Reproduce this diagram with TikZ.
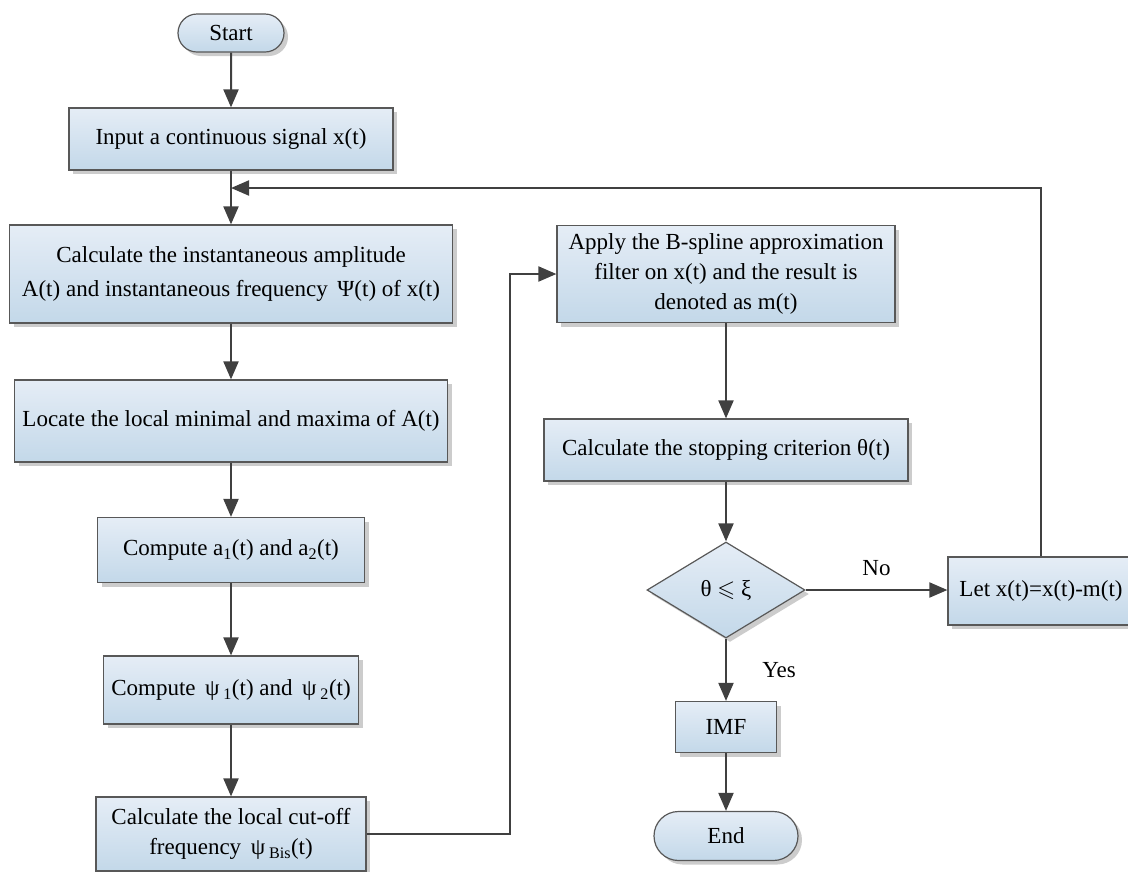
\documentclass[tikz,border=0pt]{standalone}
\usepackage{fontspec}
\setmainfont{Liberation Serif}
\usepackage{amssymb}
\usetikzlibrary{shapes.geometric,shapes.misc,arrows.meta,shadows,calc}
\definecolor{boxtop}{RGB}{229,237,246}
\definecolor{boxbot}{RGB}{195,216,233}
\definecolor{boxline}{RGB}{88,88,88}
\definecolor{flowline}{RGB}{64,64,64}

\begin{document}
\begin{tikzpicture}[x=1pt,y=-1pt,
  font=\fontsize{23}{30}\selectfont,
  proc/.style={draw=boxline,line width=1.2pt,top color=boxtop,bottom color=boxbot,align=center,inner sep=2pt,
    drop shadow={shadow xshift=4pt,shadow yshift=-4pt,fill=black!20,opacity=1}},
  term/.style={proc,rounded rectangle},
  cond/.style={proc,diamond,inner sep=0pt},
  flow/.style={flowline,line width=2pt,-{Triangle[length=18pt,width=15pt]}},
  wire/.style={flowline,line width=2pt}]

\useasboundingbox (0,0) rectangle (1128,871);

% left column
\node[term,minimum width=110pt,minimum height=38pt] (start) at (231,33) {Start};
\node[proc,minimum width=324pt,minimum height=62pt] (input) at (231,139) {Input a continuous signal x(t)};
\node[proc,minimum width=443pt,minimum height=98pt,font=\fontsize{23}{34}\selectfont] (calc) at (231,274) {Calculate the instantaneous amplitude\\A(t) and instantaneous frequency \,Ψ(t) of x(t)};
\node[proc,minimum width=433pt,minimum height=82pt] (locate) at (231,421) {Locate the local minimal and maxima of A(t)};
\node[proc,minimum width=267pt,minimum height=65pt] (compa) at (231,550) {Compute a\textsubscript{1}(t) and a\textsubscript{2}(t)};
\node[proc,minimum width=255pt,minimum height=68pt] (comppsi) at (231,690) {Compute \,ψ\,\textsubscript{1}(t) and \,ψ\,\textsubscript{2}(t)};
\node[proc,minimum width=270pt,minimum height=74pt] (cutoff) at (231,834) {Calculate the local cut-off\\frequency \,ψ\,\textsubscript{Bis}(t)};

% right column
\node[proc,minimum width=338pt,minimum height=97pt] (apply) at (726,274) {Apply the B-spline approximation\\filter on x(t) and the result is\\denoted as m(t)};
\node[proc,minimum width=364pt,minimum height=62pt] (stop) at (726,450) {Calculate the stopping criterion θ(t)};
\node[cond,minimum width=158pt,minimum height=96pt] (test) at (726,590) {θ $\leqslant$ ξ};
\node[proc,minimum width=186pt,minimum height=68pt] (upd) at (1041,591) {Let x(t)=x(t)-m(t)};
\node[proc,minimum width=101pt,minimum height=51pt] (imf) at (726,727) {IMF};
\node[term,minimum width=148pt,minimum height=49pt] (fin) at (726,836) {End};

\coordinate (join) at (231,188);

\draw[flow] (start) -- (input);
\draw[wire] (input) -- (join);
\draw[flow] (join) -- (calc);
\draw[flow] (calc) -- (locate);
\draw[flow] (locate) -- (compa);
\draw[flow] (compa) -- (comppsi);
\draw[flow] (comppsi) -- (cutoff);
\draw[flow] (cutoff.east) -| (510,274) -- (apply.west);
\draw[flow] (apply) -- (stop);
\draw[flow] (stop) -- (test);
\draw[flow] (test) -- node[midway,above=10pt,text=black]{No} (upd.west|-test);
\draw[flow] (test) -- node[pos=0.5,right=32pt,text=black]{Yes} (imf);
\draw[flow] (imf) -- (fin);
\draw[flow] (upd.north) |- (join);
\end{tikzpicture}
\end{document}
